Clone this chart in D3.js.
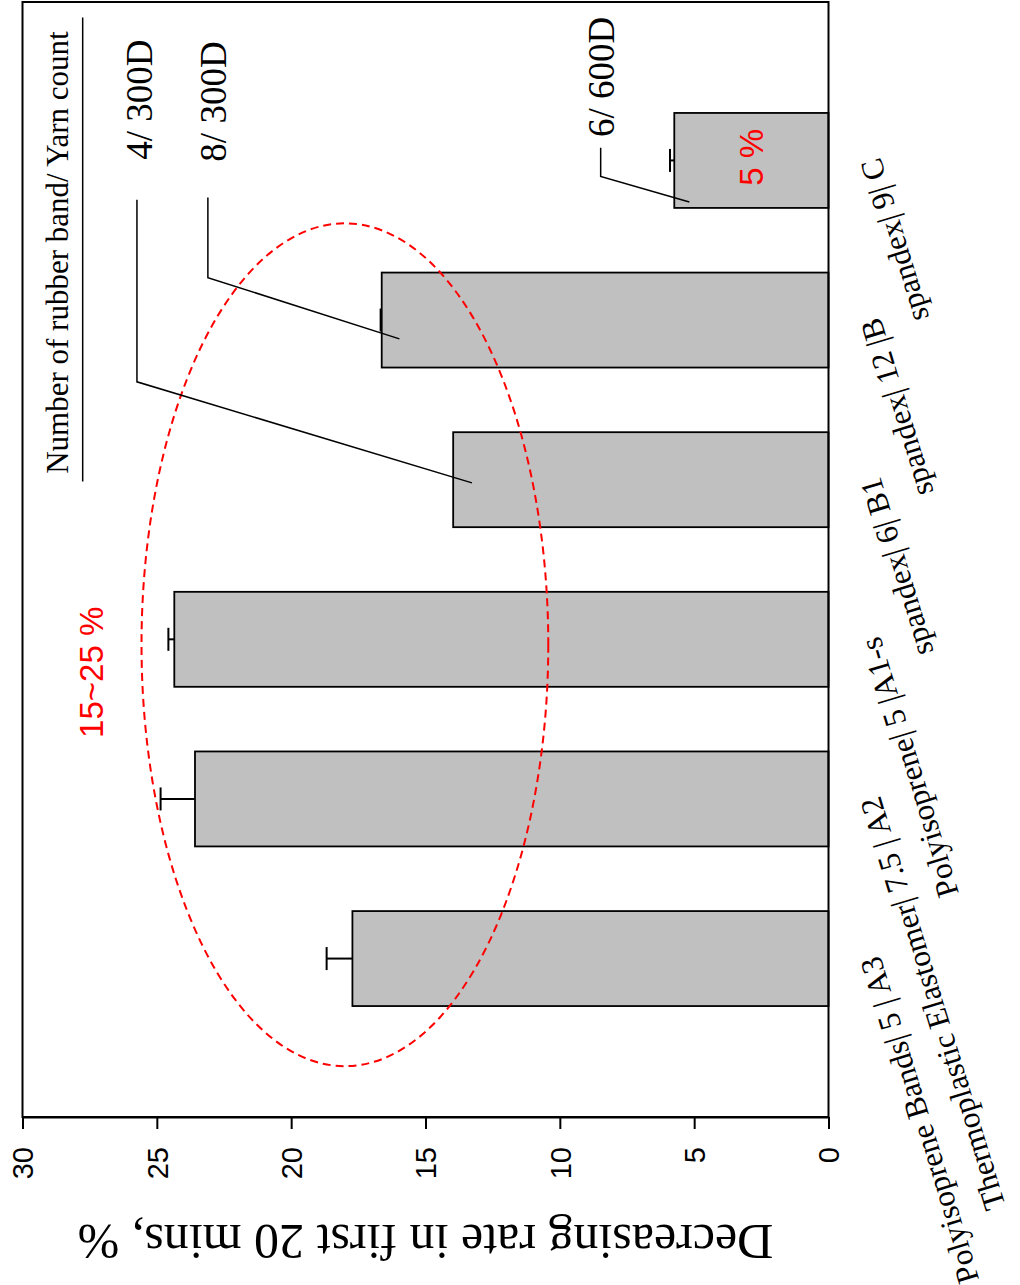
<!DOCTYPE html>
<html>
<head>
<meta charset="utf-8">
<script src="https://cdn.jsdelivr.net/npm/d3@7"></script>
<style>
  html, body { margin: 0; padding: 0; background: #fff; }
  svg { display: block; }
</style>
</head>
<body>
<svg id="chart" width="1020" height="1285"></svg>
<script>
// ---------------- DATA ----------------
const categories = [
  "Polyisoprene Bands| 5 | A3",
  "Thermoplastic Elastomer| 7.5 | A2",
  "Polyisoprene| 5 |A1-s",
  "spandex| 6| B1",
  "spandex| 12 |B",
  "spandex| 9| C"
];
const values = [17.72, 23.58, 24.35, 13.97, 16.63, 5.74];
const errors = [0.96, 1.28, 0.22, 0, 0.04, 0.16];
const valueTicks = [0, 5, 10, 15, 20, 25, 30];
const axisTitle = "Decreasing rate in first 20 mins, %";
const legendTitle = "Number of rubber band/ Yarn count";
// yarn annotations: label, [value, index] points of the leader line (from label to bar)
const yarnLabels = ["4/ 300D", "8/ 300D", "6/ 600D"];
const yarnLeaders = [
  [[25.74, 4.754], [25.74, 3.613], [13.27, 2.98]],
  [[23.10, 4.767], [23.10, 4.266], [15.97, 3.882]],
  [[8.48, 5.08], [8.48, 4.90], [5.18, 4.74]]
];
const yarnLabelPos = [[25.18, 5.381], [22.42, 5.369], [7.98, 5.523]];
const rangeNotes = ["15~25 %", "5 %"];
const rangeNotePos = [[27.0, 1.793], [2.44, 5.02]];
// highlight ellipse: centre (value, index), radii (value units, index units)
const ellipse = { cv: 18.0, ci: 1.966, rv: 7.57, ri: 2.64 };

// ---------------- LAYOUT ----------------
const svg = d3.select("#chart");
const pLeft = 22.5, pRight = 828.5, pTop = 2, pBottom = 1117;

const x = d3.scaleLinear().domain([0, 30]).range([pRight, pLeft]);
const y = d3.scaleBand().domain(categories).range([pBottom, pTop])
  .paddingInner(0.405).paddingOuter(0.695);
const bw = y.bandwidth();
// index -> pixel (band centres) for annotations
const yi = d3.scaleLinear().domain([0, categories.length - 1])
  .range([y(categories[0]) + bw / 2, y(categories[categories.length - 1]) + bw / 2]);

const serif = "'Liberation Serif', 'Times New Roman', serif";
const sans = "'Liberation Sans', Arial, sans-serif";

svg.append("rect").attr("width", 1020).attr("height", 1285).attr("fill", "#fff");

// bars
svg.append("g").selectAll("rect").data(categories).join("rect")
  .attr("x", (d, i) => x(values[i]))
  .attr("y", d => y(d))
  .attr("width", (d, i) => x(0) - x(values[i]))
  .attr("height", bw)
  .attr("fill", "#c0c0c0")
  .attr("stroke", "#000")
  .attr("stroke-width", 1.8);

// error bars
const eg = svg.append("g").attr("stroke", "#000").attr("stroke-width", 2);
categories.forEach((c, i) => {
  if (errors[i] <= 0) return;
  const cy = y(c) + bw / 2;
  const xe = x(values[i] + errors[i]);
  eg.append("line").attr("x1", x(values[i])).attr("x2", xe).attr("y1", cy).attr("y2", cy);
  eg.append("line").attr("x1", xe).attr("x2", xe).attr("y1", cy - 11.5).attr("y2", cy + 11.5);
});

// frame
svg.append("rect")
  .attr("x", pLeft).attr("y", pTop)
  .attr("width", pRight - pLeft).attr("height", pBottom - pTop)
  .attr("fill", "none").attr("stroke", "#000").attr("stroke-width", 2);

// value axis (bottom)
const ax = svg.append("g").attr("transform", `translate(0,${pBottom})`)
  .call(d3.axisBottom(x).tickValues(valueTicks).tickSize(12).tickSizeOuter(0).tickFormat(d3.format("d")));
ax.select(".domain").attr("stroke-width", 2);
ax.selectAll(".tick line").attr("stroke-width", 2);
ax.selectAll(".tick text")
  .attr("font-family", sans).attr("font-size", 29).attr("fill", "#000")
  .attr("text-anchor", "end")
  .attr("transform", "rotate(-90)")
  .attr("x", -30).attr("y", 0).attr("dy", "0.36em");

// axis title (upside-down)
svg.append("text")
  .attr("transform", `translate(${(pLeft + pRight) / 2},1225) rotate(180)`)
  .attr("text-anchor", "middle")
  .attr("font-family", serif).attr("font-size", 50)
  .text(axisTitle);

// category labels
svg.append("g").selectAll("text").data(categories).join("text")
  .attr("transform", d => `translate(${x(0) + 51.5},${y(d) + bw / 2 - 4}) rotate(-107)`)
  .attr("text-anchor", "end")
  .attr("font-family", serif).attr("font-size", 31.5)
  .text(d => d);

// highlight ellipse
svg.append("ellipse")
  .attr("cx", x(ellipse.cv)).attr("cy", yi(ellipse.ci))
  .attr("rx", x(0) - x(ellipse.rv))
  .attr("ry", Math.abs(yi(ellipse.ri) - yi(0)))
  .attr("fill", "none").attr("stroke", "#ff0000").attr("stroke-width", 2)
  .attr("stroke-dasharray", "8,5");

// legend title + line
svg.append("line")
  .attr("x1", x(27.76)).attr("x2", x(27.76))
  .attr("y1", yi(5.896)).attr("y2", yi(2.988))
  .attr("stroke", "#000").attr("stroke-width", 1.5);
svg.append("text")
  .attr("transform", `translate(${x(28.31)},${yi(4.423)}) rotate(-90)`)
  .attr("text-anchor", "middle")
  .attr("font-family", serif).attr("font-size", 31)
  .text(legendTitle);

// yarn annotations
const line = d3.line().x(p => x(p[0])).y(p => yi(p[1]));
yarnLeaders.forEach(pts => {
  svg.append("path").attr("d", line(pts))
    .attr("fill", "none").attr("stroke", "#000").attr("stroke-width", 1.5);
});
yarnLabels.forEach((t, i) => {
  svg.append("text")
    .attr("transform", `translate(${x(yarnLabelPos[i][0])},${yi(yarnLabelPos[i][1])}) rotate(-90)`)
    .attr("text-anchor", "middle")
    .attr("font-family", serif).attr("font-size", 37)
    .text(t);
});

// red range notes
rangeNotes.forEach((t, i) => {
  svg.append("text")
    .attr("transform", `translate(${x(rangeNotePos[i][0])},${yi(rangeNotePos[i][1])}) rotate(-90)`)
    .attr("text-anchor", "middle")
    .attr("font-family", sans).attr("font-size", 33)
    .attr("fill", "#ff0000")
    .text(t);
});
</script>
</body>
</html>
